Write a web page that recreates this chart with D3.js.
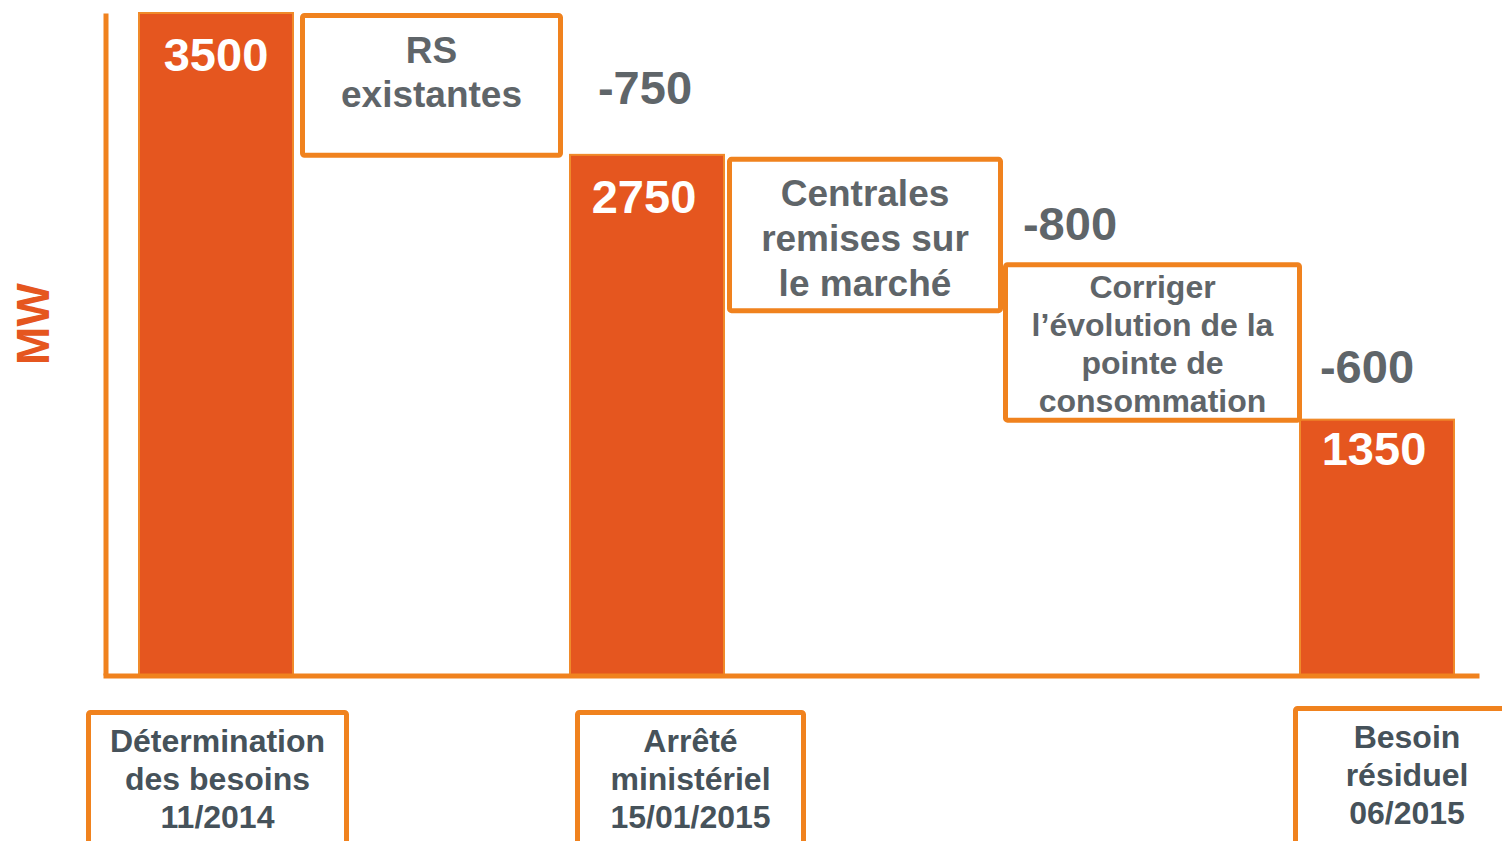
<!DOCTYPE html>
<html>
<head>
<meta charset="utf-8">
<script src="https://cdn.jsdelivr.net/npm/d3@7"></script>
<style>
  body { margin: 0; background: #fff; }
  text { font-family: "Liberation Sans", Arial, sans-serif; font-weight: bold; }
</style>
</head>
<body>
<div id="chart"></div>
<script>
// data
const totalValues = [3500, 2750, 1350];
const totalLabels = [
    ["Détermination", "des besoins", "11/2014"],
    ["Arrêté", "ministériel", "15/01/2015"],
    ["Besoin", "résiduel", "06/2015"]
];
const stepValues = [-750, -800, -600];
const stepLabels = [
    ["RS", "existantes"],
    ["Centrales", "remises sur", "le marché"],
    ["Corriger", "l’évolution de la", "pointe de", "consommation"]
];
const axisTitle = "MW";

// layout (pixels)
const width = 1502, height = 841;
const orange = "#E5561F", lineOrange = "#F0821E", grey = "#5F6569", slate = "#46525A";
const barLeft = [139, 570, 1300], barWidth = 154;
const boxLeft = [300, 727, 1003], boxRight = [563, 1003, 1302];
const boxPadTop = [0, 2, -44], boxPadBottom = [3, 7, 3];
const boxFont = [37, 37, 32], boxLine = [44, 45, 38], boxTextDy = [50, 49, 36];
const valueDy = [58, 58, 45], valueDx = [0, -3, -3];
const deltaX = [645, 1070, 1367], deltaDy = [-51, -66, -37];
const footLeft = [86, 575, 1293], footRight = [349, 806, 1512], footTop = [710, 710, 706];

const svg = d3.select("#chart")
    .append("svg")
    .attr("width", width)
    .attr("height", height);

const y = d3.scaleLinear()
    .domain([0, 3500])
    .range([675, 13]);

// running levels of the waterfall
const levels = [totalValues[0]];
stepValues.forEach((d, i) => levels.push(levels[i] + d));

// bars
svg.append("g")
    .selectAll("rect")
    .data(totalValues)
    .join("rect")
    .attr("x", (d, i) => barLeft[i])
    .attr("y", d => y(d))
    .attr("width", barWidth)
    .attr("height", d => y(0) - y(d))
    .attr("fill", orange)
    .attr("stroke", "#F08A2A")
    .attr("stroke-width", 2);

// values in bars
svg.append("g")
    .selectAll("text")
    .data(totalValues)
    .join("text")
    .attr("x", (d, i) => barLeft[i] + barWidth / 2 + valueDx[i])
    .attr("y", (d, i) => y(d) + valueDy[i])
    .attr("text-anchor", "middle")
    .attr("fill", "#fff")
    .style("font-size", "47px")
    .text(d => d);

// step boxes
const steps = svg.append("g")
    .selectAll("g")
    .data(stepValues)
    .join("g");

steps.append("rect")
    .attr("x", (d, i) => boxLeft[i] + 2.5)
    .attr("y", (d, i) => y(levels[i]) + boxPadTop[i] + 2.5)
    .attr("width", (d, i) => boxRight[i] - boxLeft[i] - 5)
    .attr("height", (d, i) => y(levels[i + 1]) + boxPadBottom[i] - y(levels[i]) - boxPadTop[i] - 5)
    .attr("rx", 2)
    .attr("fill", "#fff")
    .attr("stroke", lineOrange)
    .attr("stroke-width", 5);

steps.each(function (d, i) {
    const top = y(levels[i]) + boxPadTop[i];
    d3.select(this).selectAll("text")
        .data(stepLabels[i])
        .join("text")
        .attr("x", (boxLeft[i] + boxRight[i]) / 2)
        .attr("y", (t, j) => top + boxTextDy[i] + j * boxLine[i])
        .attr("text-anchor", "middle")
        .attr("fill", grey)
        .style("font-size", boxFont[i] + "px")
        .text(t => t);
});

// deltas
svg.append("g")
    .selectAll("text")
    .data(stepValues)
    .join("text")
    .attr("x", (d, i) => deltaX[i])
    .attr("y", (d, i) => y(levels[i + 1]) + deltaDy[i])
    .attr("text-anchor", "middle")
    .attr("fill", grey)
    .style("font-size", "47px")
    .text(d => d);

// axes
svg.append("g")
    .attr("transform", "translate(105.5,0)")
    .call(d3.axisLeft(y).tickValues([]).tickSizeOuter(0))
    .call(g => g.select(".domain").attr("stroke", lineOrange).attr("stroke-width", 5));

const x = d3.scaleLinear().domain([0, 1]).range([103, 1479]);
svg.append("g")
    .attr("transform", "translate(0,675.5)")
    .call(d3.axisBottom(x).tickValues([]).tickSizeOuter(0))
    .call(g => g.select(".domain").attr("stroke", lineOrange).attr("stroke-width", 5));

// axis title
svg.append("text")
    .attr("transform", "translate(49,324) rotate(-90)")
    .attr("text-anchor", "middle")
    .attr("fill", orange)
    .style("font-size", "46px")
    .text(axisTitle);

// footer boxes
const feet = svg.append("g")
    .selectAll("g")
    .data(totalLabels)
    .join("g");

feet.append("rect")
    .attr("x", (d, i) => footLeft[i] + 2.5)
    .attr("y", (d, i) => footTop[i] + 2.5)
    .attr("width", (d, i) => footRight[i] - footLeft[i] - 5)
    .attr("height", 200)
    .attr("rx", 2)
    .attr("fill", "#fff")
    .attr("stroke", lineOrange)
    .attr("stroke-width", 5);

feet.each(function (d, i) {
    d3.select(this).selectAll("text")
        .data(d)
        .join("text")
        .attr("x", i === 2 ? 1407 : (footLeft[i] + footRight[i]) / 2)
        .attr("y", (t, j) => footTop[i] + 42 + j * 38)
        .attr("text-anchor", "middle")
        .attr("fill", slate)
        .style("font-size", "32px")
        .text(t => t);
});
</script>
</body>
</html>
